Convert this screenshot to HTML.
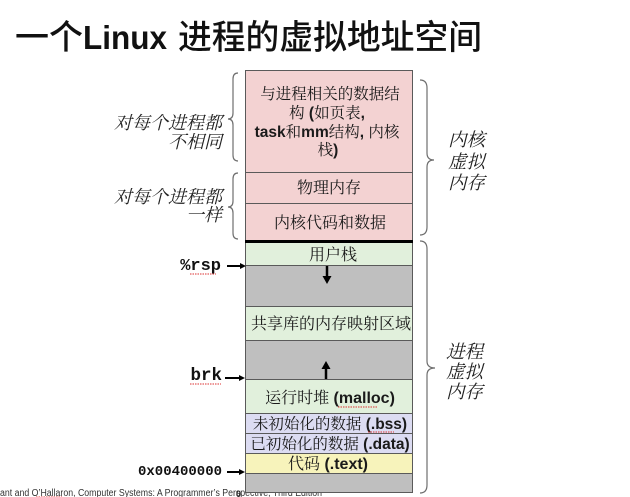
<!DOCTYPE html>
<html>
<head>
<meta charset="utf-8">
<style>
  html,body{margin:0;padding:0;background:#fff;}
  body{width:630px;height:497px;overflow:hidden;}
  svg{display:block;}
</style>
</head>
<body>
<svg width="630" height="497" viewBox="0 0 630 497" xmlns="http://www.w3.org/2000/svg">
  <rect x="0" y="0" width="630" height="497" fill="#fff"/>

  <!-- Title -->
  <text x="15" y="49" font-family="'Noto Sans CJK SC', sans-serif" font-size="34" font-weight="500" fill="#111">一个</text>
  <text x="83" y="49" font-family="'Liberation Sans', sans-serif" font-size="33" font-weight="bold" fill="#111" textLength="84" lengthAdjust="spacingAndGlyphs">Linux</text>
  <text x="178" y="49" font-family="'Noto Sans CJK SC', sans-serif" font-size="34" font-weight="500" fill="#111" textLength="304" lengthAdjust="spacingAndGlyphs">进程的虚拟地址空间</text>

  <!-- footer (behind box) -->
  <text x="0" y="496" font-family="'Liberation Sans', sans-serif" font-size="10" fill="#333" textLength="322" lengthAdjust="spacingAndGlyphs">ant and O’Hallaron, Computer Systems: A Programmer’s Perspective, Third Edition</text>
  <line x1="36" y1="497" x2="62" y2="497" stroke="#d33" stroke-width="1" stroke-dasharray="1.5,1"/>

  <!-- Memory box rows -->
  <g stroke="#5a5a5a" stroke-width="1">
    <rect x="245.5" y="70.5" width="167" height="102" fill="#f3d2d2"/>
    <rect x="245.5" y="172.5" width="167" height="31" fill="#f3d2d2"/>
    <rect x="245.5" y="203.5" width="167" height="37" fill="#f3d2d2"/>
    <rect x="245.5" y="242.5" width="167" height="23" fill="#e1f0dc"/>
    <rect x="245.5" y="265.5" width="167" height="41" fill="#bfbfbf"/>
    <rect x="245.5" y="306.5" width="167" height="34" fill="#e1f0dc"/>
    <rect x="245.5" y="340.5" width="167" height="39" fill="#bfbfbf"/>
    <rect x="245.5" y="379.5" width="167" height="34" fill="#e1f0dc"/>
    <rect x="245.5" y="413.5" width="167" height="20" fill="#dcdcf2"/>
    <rect x="245.5" y="433.5" width="167" height="20" fill="#dcdcf2"/>
    <rect x="245.5" y="453.5" width="167" height="20" fill="#f7f3bb"/>
    <rect x="245.5" y="473.5" width="167" height="19" fill="#bfbfbf"/>
  </g>
  <rect x="245" y="240" width="168" height="3" fill="#000"/>

  <!-- Box labels -->
  <g font-family="'Liberation Sans', 'Noto Serif CJK SC', serif" fill="#1a1a1a" text-anchor="middle">
    <text x="330" y="99" font-size="15.5">与进程相关的数据结</text>
    <text x="327" y="118" font-size="15.5">构 <tspan font-weight="bold">(</tspan>如页表<tspan font-weight="bold">,</tspan></text>
    <text x="327" y="137" font-size="15.5"><tspan font-weight="bold">task</tspan>和<tspan font-weight="bold">mm</tspan>结构<tspan font-weight="bold">, </tspan>内核</text>
    <text x="328" y="155" font-size="15.5">栈<tspan font-weight="bold">)</tspan></text>

    <text x="329" y="193" font-size="16">物理内存</text>
    <text x="330" y="228" font-size="16">内核代码和数据</text>
    <text x="333" y="260" font-size="16">用户栈</text>
    <text x="331" y="329" font-size="16">共享库的内存映射区域</text>
    <text x="330" y="403" font-size="16">运行时堆 <tspan font-weight="bold">(malloc)</tspan></text>
    <text x="330" y="429" font-size="15.5">未初始化的数据 <tspan font-weight="bold">(.bss)</tspan></text>
    <text x="330" y="449" font-size="15.5">已初始化的数据 <tspan font-weight="bold">(.data)</tspan></text>
    <text x="328" y="469" font-size="16">代码 <tspan font-weight="bold">(.text)</tspan></text>
  </g>
  <!-- spellcheck squiggles -->
  <g stroke="#d33" stroke-width="1" stroke-dasharray="1.5,1">
    <line x1="338" y1="407" x2="378" y2="407"/>
    <line x1="368" y1="432" x2="394" y2="432"/>
  </g>

  <!-- growth arrows -->
  <g fill="#000" stroke="#000">
    <line x1="327" y1="266" x2="327" y2="277" stroke-width="2.5"/>
    <polygon points="322.5,276 331.5,276 327,284" stroke="none"/>
    <line x1="326" y1="379" x2="326" y2="368" stroke-width="2.5"/>
    <polygon points="321.5,369 330.5,369 326,361" stroke="none"/>
  </g>

  <!-- left pointer labels -->
  <g font-family="'Liberation Mono', monospace" font-weight="bold" fill="#111" text-anchor="end">
    <text x="221" y="270" font-size="17">%rsp</text>
    <text x="222" y="380" font-size="17.5">brk</text>
    <text x="222" y="475" font-size="14">0x00400000</text>
  </g>
  <g stroke="#d33" stroke-width="1" stroke-dasharray="1.5,1">
    <line x1="190" y1="274" x2="216" y2="274"/>
    <line x1="190" y1="384" x2="221" y2="384"/>
  </g>
  <g stroke="#000" stroke-width="2" fill="#000">
    <line x1="227" y1="266" x2="241" y2="266"/>
    <polygon points="240,263 246,266 240,269" stroke="none"/>
    <line x1="225" y1="378" x2="240" y2="378"/>
    <polygon points="239,375 245,378 239,381" stroke="none"/>
    <line x1="227" y1="472" x2="240" y2="472"/>
    <polygon points="239,469 245,472 239,475" stroke="none"/>
  </g>
  <text x="236" y="497" font-family="'Liberation Sans', sans-serif" font-size="9" font-weight="bold" fill="#222">0</text>

  <!-- Braces -->
  <g fill="none" stroke="#6e6e6e" stroke-width="1.2">
    <path d="M238,73 Q233,73 233,79 L233,113 Q233,119 228,119 Q233,119 233,125 L233,155 Q233,161 238,161"/>
    <path d="M238,173 Q233,173 233,179 L233,201 Q233,207 228,207 Q233,207 233,213 L233,233 Q233,239 238,239"/>
    <path d="M420,80 Q427,80 427,88 L427,153 Q427,160 434,160 Q427,160 427,167 L427,227 Q427,235 420,235"/>
    <path d="M420,241 Q427,241 427,249 L427,361 Q427,368 435,368 Q427,368 427,375 L427,485 Q427,493 420,493"/>
  </g>

  <!-- Left italic labels -->
  <g font-family="'Liberation Serif', 'Noto Serif CJK SC', serif" font-style="italic" font-size="18" fill="#222" text-anchor="end">
    <text x="222" y="129">对每个进程都</text>
    <text x="222" y="148">不相同</text>
    <text x="222" y="203">对每个进程都</text>
    <text x="222" y="221">一样</text>
  </g>

  <!-- Right italic labels -->
  <g font-family="'Liberation Serif', 'Noto Serif CJK SC', serif" font-style="italic" font-size="18.5" fill="#222">
    <text x="448" y="146">内核</text>
    <text x="448" y="168">虚拟</text>
    <text x="448" y="189">内存</text>
    <text x="446" y="358">进程</text>
    <text x="446" y="378">虚拟</text>
    <text x="446" y="398">内存</text>
  </g>
</svg>
</body>
</html>
